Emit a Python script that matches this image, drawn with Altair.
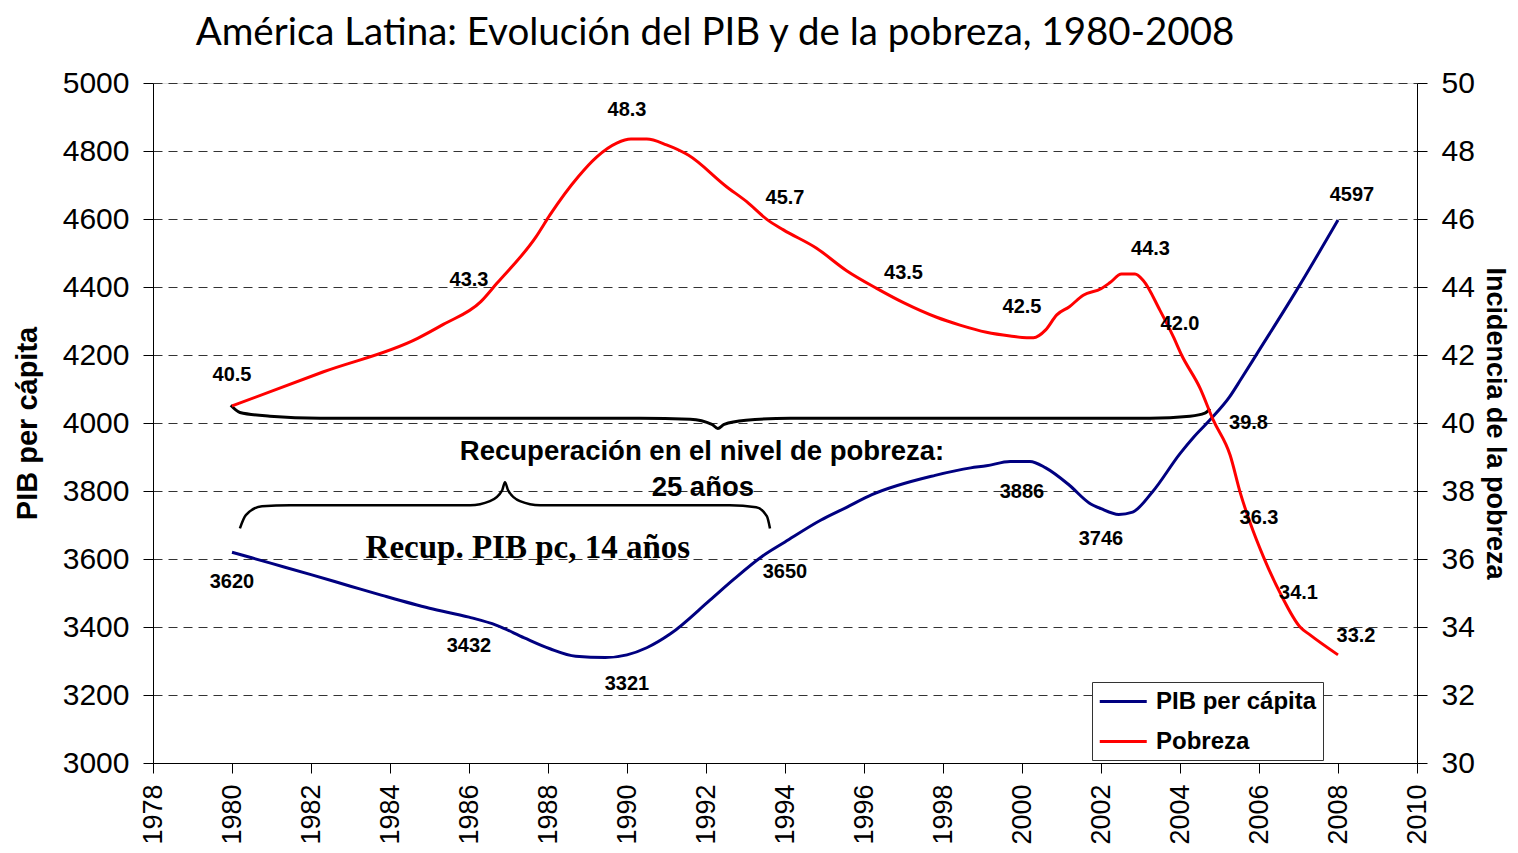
import altair as alt
import pandas as pd

# ---------------- data ----------------
pib_years = [1980.0, 1981.0, 1982.0, 1983.0, 1983.8, 1985.0, 1986.0, 1986.7, 1987.4, 1988.05,
             1988.7, 1989.45, 1990.0, 1990.5, 1991.1, 1992.1, 1992.7, 1993.4, 1994.0, 1994.9,
             1995.56, 1996.2, 1997.8, 1998.7, 1999.1, 1999.7, 2000.2, 2000.6, 2001.2, 2001.7,
             2002.0, 2002.45, 2002.8, 2003.3, 2004.0, 2004.35, 2004.75, 2005.25, 2005.55, 2005.95,
             2006.95, 2008.0]
pib_values = [3620, 3587, 3554, 3520, 3493, 3455, 3429, 3405, 3368, 3336,
              3314, 3310, 3318, 3339, 3380, 3479, 3540, 3606, 3650, 3714,
              3752, 3789, 3846, 3868, 3874, 3887, 3887, 3868, 3817, 3765,
              3748, 3731, 3738, 3797, 3910, 3959, 4008, 4076, 4130, 4204,
              4390, 4597]

pov_years = [1980.0, 1982.3, 1984.7, 1985.35, 1986.3, 1986.7, 1987.7, 1988.05, 1988.77, 1989.23,
             1989.74, 1990.1, 1990.5, 1991.0, 1991.55, 1992.52, 1993.03, 1993.54, 1993.96, 1994.8,
             1995.56, 1996.32, 1997.0, 1997.84, 1998.43, 1999.1, 1999.7, 2000.12, 2000.29, 2000.6,
             2000.88, 2001.2, 2001.55, 2002.0, 2002.23, 2002.52, 2002.86, 2003.07, 2003.49, 2003.83,
             2004.04, 2004.51, 2004.84, 2005.27, 2005.53, 2005.78, 2006.11, 2006.54, 2007.04, 2007.3,
             2008.0]
pov_values = [40.5, 41.5, 42.49, 42.9, 43.57, 44.1, 45.48, 46.12, 47.25, 47.82,
              48.23, 48.35, 48.35, 48.18, 47.88, 46.95, 46.51, 45.99, 45.68, 45.14,
              44.48, 43.96, 43.54, 43.11, 42.88, 42.67, 42.56, 42.51, 42.51, 42.74,
              43.18, 43.42, 43.76, 43.95, 44.13, 44.38, 44.38, 44.19, 43.32, 42.54,
              42.0, 41.02, 40.09, 39.05, 37.93, 37.05, 36.07, 34.99, 34.0, 33.76,
              33.18]

series_names = ["PIB per cápita", "Pobreza"]
series_colors = ["#000080", "#FF0000"]

# value labels
pib_label_years = [1980, 1986, 1990, 1994, 2000, 2002, 2008]
pib_label_values = [3620, 3432, 3321, 3650, 3886, 3746, 4597]
pov_label_years = [1980, 1986, 1990, 1994, 1997, 2000, 2003, 2004, 2005, 2006, 2007, 2008]
pov_label_values = [40.5, 43.3, 48.3, 45.7, 43.5, 42.5, 44.3, 42.0, 39.8, 36.3, 34.1, 33.2]

# braces (annotation shapes, in year / PIB units)
brace_pobreza_years = [1979.97, 1980.2, 1980.96, 1982.23, 1990.33, 1991.6, 1992.15, 1992.3,
                       1992.46, 1993.01, 1994.13, 2003.24, 2004.25, 2004.63, 2004.76]
brace_pobreza_values = [4052, 4031, 4020, 4014, 4014, 4011, 3996, 3984,
                        3996, 4008, 4014, 4014, 4020, 4029, 4042]
brace_pib_years = [1980.2, 1980.35, 1980.76, 1981.47, 1986.03, 1986.53, 1986.84, 1986.91,
                   1986.99, 1987.29, 1987.8, 1992.6, 1993.27, 1993.54, 1993.62]
brace_pib_values = [3690, 3729, 3755, 3758, 3758, 3770, 3802, 3826,
                    3802, 3770, 3758, 3758, 3752, 3726, 3690]

annotations = [
    {"text": "Recuperación en el nivel de pobreza:", "year": 1991.9, "v": 3914, "font": "Liberation Sans", "size": 27.5},
    {"text": "25 años", "year": 1991.92, "v": 3808, "font": "Liberation Sans", "size": 27.5},
    {"text": "Recup. PIB pc, 14 años", "year": 1987.49, "v": 3631, "font": "Liberation Serif", "size": 33},
]

title_text = "América Latina: Evolución del PIB y de la pobreza, 1980-2008"

SANS = "Liberation Sans"

# ---------------- frames ----------------
df_pib = pd.DataFrame({"year": pib_years, "v": pib_values, "serie": series_names[0]})
df_pov = pd.DataFrame({"year": pov_years, "v": pov_values, "serie": series_names[1]})

x_enc = alt.X(
    "year:Q",
    scale=alt.Scale(domain=[1978, 2010], nice=False, zero=False),
    axis=alt.Axis(
        values=list(range(1978, 2011, 2)), format="d", labelAngle=270, labelFontSize=27,
        labelFont=SANS, labelColor="black", labelPadding=11, tickSize=10, tickColor="black",
        domainColor="black", grid=False, title=None, labelFlush=False, labelOverlap=False,
    ),
)

y_left = alt.Y(
    "v:Q",
    scale=alt.Scale(domain=[3000, 5000], nice=False, zero=False),
    axis=alt.Axis(
        values=list(range(3000, 5001, 200)), format="d", labelFontSize=30, labelFont=SANS,
        labelColor="black", labelPadding=14, tickSize=10, tickColor="black", domainColor="black",
        grid=True, gridDash=[9, 6], gridColor="#333333", gridWidth=1,
        title="PIB per cápita", titleFont=SANS, titleFontSize=29, titleFontWeight="bold",
        titleColor="black", titleX=-126, titleY=340, titleAngle=270, titleAlign="center",
        titleBaseline="middle", labelFlush=False,
    ),
)

y_right = alt.Y(
    "v:Q",
    scale=alt.Scale(domain=[30, 50], nice=False, zero=False),
    axis=alt.Axis(
        orient="right", values=list(range(30, 51, 2)), format="d", labelFontSize=30, labelFont=SANS,
        labelColor="black", labelPadding=14, tickSize=10, tickColor="black", domainColor="black",
        grid=False, title="Incidencia de la pobreza", titleFont=SANS, titleFontSize=27,
        titleFontWeight="bold", titleColor="black", titleX=77, titleY=340, titleAngle=90,
        titleAlign="center", titleBaseline="middle", labelFlush=False,
    ),
)

color_enc = alt.Color(
    "serie:N",
    scale=alt.Scale(domain=series_names, range=series_colors),
    legend=alt.Legend(
        title=None, orient="none", legendX=939, legendY=599, symbolType="M-1,0L3,0",
        symbolStrokeWidth=3, symbolSize=552, labelFont=SANS, labelFontSize=24,
        labelFontWeight="bold", labelColor="black", strokeColor="#333333", fillColor="white",
        padding=6, rowPadding=14, labelOffset=31, cornerRadius=0, labelLimit=0,
    ),
)

# ---------------- left group ----------------
pib_line = alt.Chart(df_pib).mark_line(strokeWidth=3, interpolate="monotone").encode(
    x=x_enc, y=y_left, color=color_enc
)

brace1 = alt.Chart(pd.DataFrame({"year": brace_pobreza_years, "v": brace_pobreza_values})).mark_line(
    strokeWidth=3, color="black", interpolate="monotone"
).encode(x=x_enc, y=y_left)

brace2 = alt.Chart(pd.DataFrame({"year": brace_pib_years, "v": brace_pib_values})).mark_line(
    strokeWidth=2.5, color="black", interpolate="monotone"
).encode(x=x_enc, y=y_left)

ann_layers = []
for a in annotations:
    ann_layers.append(
        alt.Chart(pd.DataFrame([{"year": a["year"], "v": a["v"]}])).mark_text(
            text=a["text"], font=a["font"], fontSize=a["size"], fontWeight="bold", color="black",
            align="center", baseline="middle",
        ).encode(x=x_enc, y=y_left)
    )

df_pib_lab = pd.DataFrame({"year": pib_label_years, "v": pib_label_values})
pib_lab_below = alt.Chart(df_pib_lab[df_pib_lab.year < 2008]).mark_text(
    font=SANS, fontSize=20, fontWeight="bold", color="black", dy=30
).encode(x=x_enc, y=y_left, text=alt.Text("v:Q", format="d"))
pib_lab_end = alt.Chart(df_pib_lab[df_pib_lab.year == 2008]).mark_text(
    font=SANS, fontSize=20, fontWeight="bold", color="black", dy=-25, dx=14
).encode(x=x_enc, y=y_left, text=alt.Text("v:Q", format="d"))

title_layer = alt.Chart(pd.DataFrame({"t": [title_text]})).mark_text(
    font="Lato", fontSize=38.5, color="black", align="center", baseline="alphabetic"
).encode(text="t:N", x=alt.value(562), y=alt.value(-38))

left = alt.layer(pib_line, brace1, brace2, *ann_layers, pib_lab_below, pib_lab_end, title_layer)

# ---------------- right group ----------------
pov_line = alt.Chart(df_pov).mark_line(strokeWidth=3, interpolate="monotone").encode(
    x=x_enc, y=y_right, color=color_enc
)

label_offsets = {2003: (10, -28), 2005: (29, -7), 2008: (18, -18)}
df_pov_lab = pd.DataFrame({"year": pov_label_years, "v": pov_label_values})
special = list(label_offsets.keys())
pov_layers = [
    alt.Chart(df_pov_lab[~df_pov_lab.year.isin(special)]).mark_text(
        font=SANS, fontSize=20, fontWeight="bold", color="black", dy=-31
    ).encode(x=x_enc, y=y_right, text=alt.Text("v:Q", format=".1f"))
]
for yr, (dx, dy) in label_offsets.items():
    pov_layers.append(
        alt.Chart(df_pov_lab[df_pov_lab.year == yr]).mark_text(
            font=SANS, fontSize=20, fontWeight="bold", color="black", dx=dx, dy=dy
        ).encode(x=x_enc, y=y_right, text=alt.Text("v:Q", format=".1f"))
    )

right = alt.layer(pov_line, *pov_layers)

chart = (
    alt.layer(left, right)
    .resolve_scale(y="independent")
    .properties(
        width=1264,
        height=680,
        autosize=alt.AutoSizeParams(type="none"),
        padding={"left": 145, "top": 75, "right": 93, "bottom": 82},
    )
    .configure_view(stroke="#888888", strokeWidth=1)
    .configure(background="white")
)

chart.save("out.html", embed_options={"renderer": "svg", "actions": False})
